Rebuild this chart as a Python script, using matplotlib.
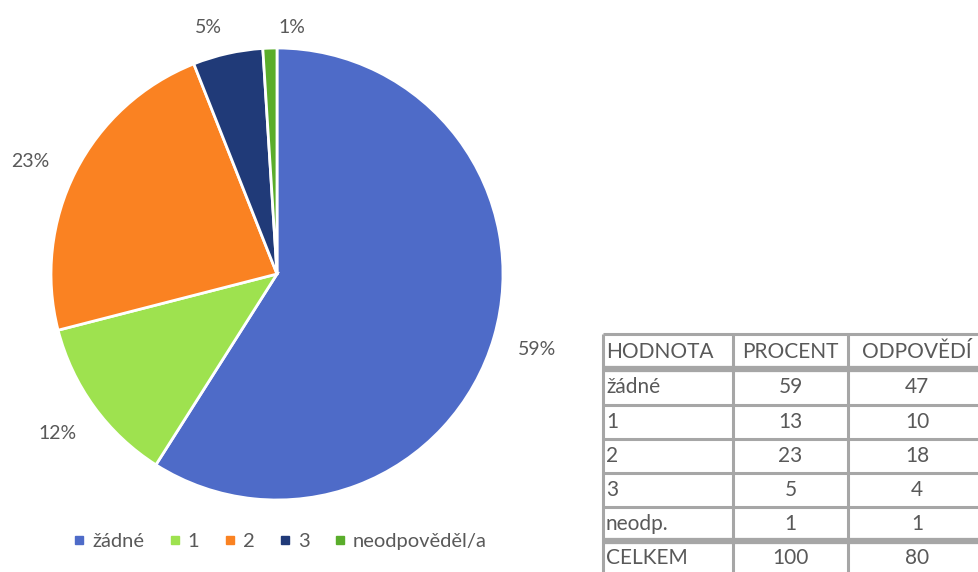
import matplotlib
matplotlib.use("Agg")
import matplotlib.pyplot as plt
from matplotlib.lines import Line2D

plt.rcParams["font.family"] = ["Lato", "DejaVu Sans"]

# pie data (percent of respondents)
categories = ["žádné", "1", "2", "3", "neodpověděl/a"]
percent = [59, 12, 23, 5, 1]
colors = ["#4e6bc8", "#9ee24f", "#fa8222", "#203a78", "#5aad2b"]

# summary table
tab_header = ["HODNOTA", "PROCENT", "ODPOVĚDÍ"]
tab_values = ["žádné", "1", "2", "3", "neodp."]
tab_percent = [59, 13, 23, 5, 1]
tab_counts = [47, 10, 18, 4, 1]
tab_total = ["CELKEM", 100, 80]

GRAY = "#595959"
W, H = 979, 572
fig = plt.figure(figsize=(W / 100, H / 100), dpi=100)

# --- pie ---
ax = fig.add_axes([51 / W, (H - 500) / H, 452 / W, 452 / H])
wedges, texts, autotexts = ax.pie(
    percent, colors=colors, startangle=90, counterclock=False,
    autopct=lambda p: f"{p:.0f}%", pctdistance=1.2,
    wedgeprops=dict(edgecolor="white", linewidth=2),
    textprops=dict(color=GRAY, fontsize=14))
# small slices: pull labels apart
autotexts[3].set_position((-0.305, 1.09))
autotexts[4].set_position((0.066, 1.09))
autotexts[2].set_position((-1.093, 0.50))
ax.set_xlim(-1, 1); ax.set_ylim(-1, 1)
ax.set_aspect("equal")

handles = [Line2D([], [], marker="s", ls="", color=c, markersize=6) for c in colors]
leg = fig.legend(handles, categories, loc="center", bbox_to_anchor=(280 / W, 1 - 541 / H),
                 ncol=5, frameon=False, fontsize=14.5, handlelength=0.6,
                 handletextpad=0.35, columnspacing=1.2, labelcolor=GRAY)

# --- table ---
col_edges = [603, 733, 848, 986]
row_edges = [334, 369, 405, 439, 473, 507, 541, 576]
tax = fig.add_axes([0, 0, 1, 1])
tax.set_xlim(0, W); tax.set_ylim(H, 0)
tax.axis("off")

rows = [tab_header] + [[v, p, c] for v, p, c in zip(tab_values, tab_percent, tab_counts)] + [tab_total]
LC = "#a6a6a6"
for i, row in enumerate(rows):
    yc = (row_edges[i] + row_edges[i + 1]) / 2
    for j, val in enumerate(row):
        if j == 0:
            tax.text(col_edges[0] + 3, yc, str(val), ha="left", va="center",
                     fontsize=15, color=GRAY)
        else:
            tax.text((col_edges[j] + col_edges[j + 1]) / 2, yc, str(val), ha="center",
                     va="center", fontsize=15, color=GRAY)

for k, y in enumerate(row_edges):
    lw = 4.5 if k in (1, 6) else 2.2
    tax.plot([col_edges[0], col_edges[-1]], [y, y], color=LC, lw=lw, solid_capstyle="butt")
for x in col_edges:
    tax.plot([x, x], [row_edges[0], row_edges[-1]], color=LC, lw=2.2, solid_capstyle="butt")

fig.savefig("out.png", dpi=100, facecolor="white")
